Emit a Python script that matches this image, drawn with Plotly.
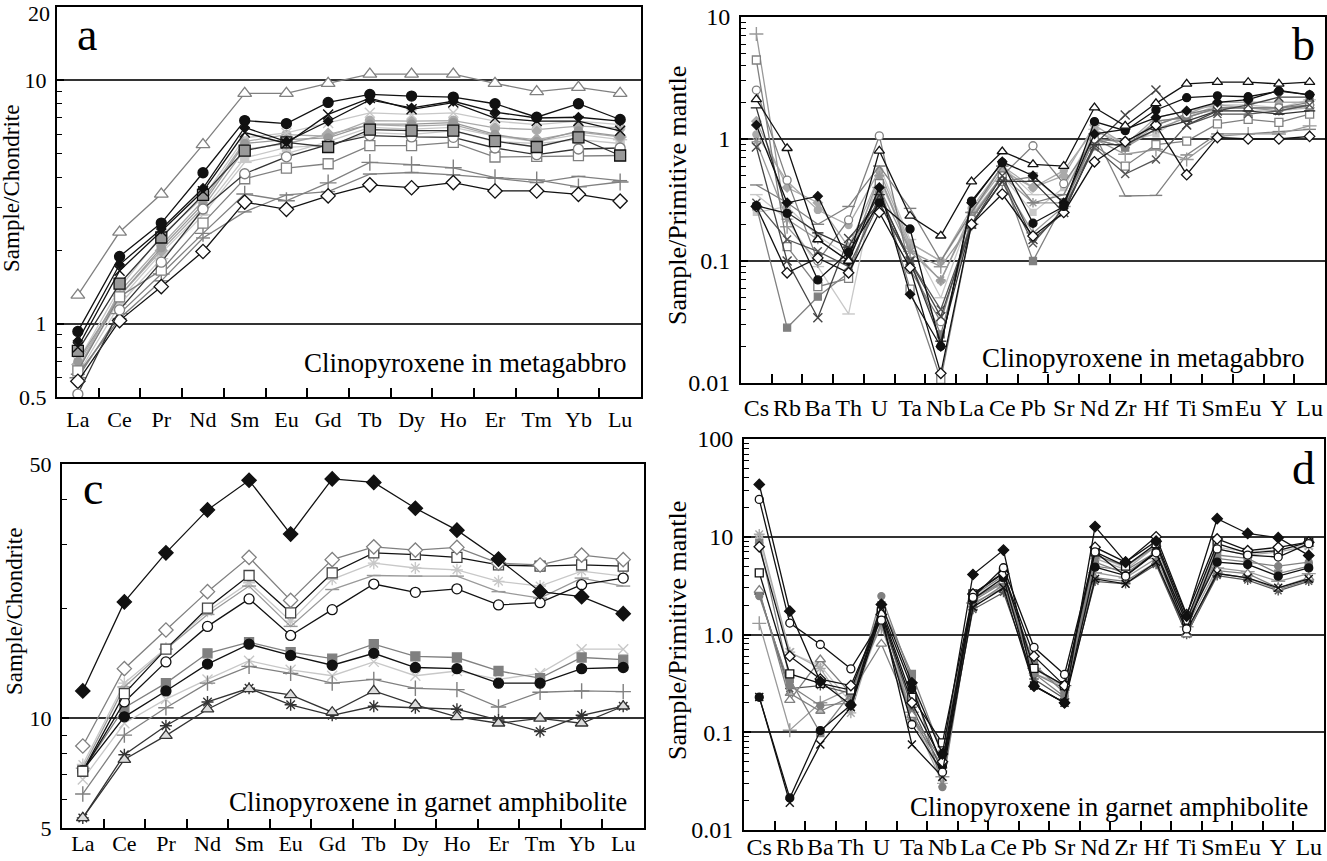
import math
import plotly.graph_objects as go

# --- categorias de los ejes ---
REE = ["La", "Ce", "Pr", "Nd", "Sm", "Eu", "Gd", "Tb", "Dy", "Ho", "Er", "Tm", "Yb", "Lu"]
SPIDER = ["Cs", "Rb", "Ba", "Th", "U", "Ta", "Nb", "La", "Ce", "Pb", "Sr", "Nd", "Zr", "Hf",
          "Ti", "Sm", "Eu", "Y", "Lu"]

# --- panel a: REE clinopiroxeno en metagabro (normalizado a condrita) ---
a_tri = [1.31, 2.38, 3.41, 5.44, 8.84, 8.84, 9.72, 10.6, 10.6, 10.6, 9.72, 8.99, 9.35, 8.84]
a_circ_negro = [0.93, 1.89, 2.59, 4.17, 6.83, 6.64, 8.11, 8.75, 8.61, 8.53, 8.01, 7.05, 8.01, 6.9]
a_diam_negro = [0.85, 1.75, 2.45, 3.6, 6.4, 5.6, 6.79, 8.3, 7.7, 8.2, 7.4, 7.0, 7.05, 6.8]
a_x_negro = [0.8, 1.65, 2.4, 3.5, 6.1, 5.5, 7.24, 8.45, 7.6, 8.1, 7.0, 6.8, 6.8, 6.2]
a_cuad_gris = [0.774, 1.46, 2.26, 3.38, 5.14, 5.56, 5.32, 6.27, 6.21, 6.21, 5.62, 5.32, 5.83, 4.91]
a_circ_abierto = [0.514, 1.14, 1.79, 2.96, 4.13, 4.85, 5.44, 5.93, 5.85, 5.83, 5.27, 4.95, 5.22, 5.27]
a_cuad_abierto = [0.64, 1.29, 1.66, 2.59, 3.94, 4.36, 4.54, 5.39, 5.39, 5.56, 4.84, 4.87, 4.9, 4.91]
a_cruz = [0.6, 1.1, 1.6, 2.35, 3.41, 3.2, 3.79, 4.6, 4.5, 4.37, 3.98, 3.9, 3.65, 3.82]
a_guion = [0.62, 1.05, 1.5, 2.25, 2.88, 3.38, 3.49, 4.12, 4.18, 4.09, 3.96, 3.8, 4.03, 3.87]
a_diam_abierto = [0.58, 1.03, 1.42, 1.98, 3.16, 2.95, 3.35, 3.72, 3.62, 3.8, 3.51, 3.51, 3.4, 3.19]
a_claro1 = [0.65, 1.35, 2.1, 3.2, 5.6, 5.98, 5.89, 6.83, 6.79, 6.83, 6.37, 6.27, 6.48, 6.37]
a_claro2 = [0.7, 1.4, 2.3, 3.3, 5.8, 6.08, 6.68, 7.35, 7.24, 7.35, 6.79, 6.58, 6.79, 6.58]
a_claro3 = [0.68, 1.3, 2.0, 3.0, 5.2, 5.5, 6.0, 6.58, 6.48, 6.58, 5.93, 5.7, 6.12, 5.85]
a_claro4 = [0.62, 1.2, 1.85, 2.8, 4.6, 5.0, 5.6, 6.4, 6.3, 6.4, 5.9, 5.6, 6.0, 5.7]
a_claro5 = [0.66, 1.25, 1.95, 2.9, 4.8, 5.3, 5.4, 6.1, 6.0, 6.2, 5.6, 5.5, 5.7, 5.5]
a_claro6 = [0.7, 1.3, 2.05, 3.1, 5.5, 5.7, 5.8, 6.6, 6.6, 6.7, 6.0, 5.6, 6.2, 5.9]

# --- panel b: multielementos clinopiroxeno en metagabro (manto primitivo) ---
b_tri = [2.11, 0.84, 0.15, 0.1, 0.8, 0.234, 0.161, 0.447, 0.79, 0.62, 0.6, 1.81, 1.28, 1.96, 2.83, 2.92, 2.92, 2.83, 2.92]
b_circ_negro = [0.284, 0.246, 0.07, 0.118, 0.3, 0.183, 0.02, 0.31, 0.64, 0.204, 0.28, 1.39, 1.17, 1.73, 2.18, 2.26, 2.22, 2.47, 2.3]
b_circ_abierto = [2.52, 0.46, 0.1, 0.217, 1.06, 0.085, 0.0318, 0.22, 0.5, 0.88, 0.43, 1.0, 0.95, 1.3, 1.6, 1.8, 1.8, 1.8, 1.9]
b_cuad_abierto = [4.44, 0.131, 0.0616, 0.072, 0.43, 0.0589, 0.0107, 0.2, 0.45, 0.49, 0.3, 0.88, 0.6, 0.9, 0.96, 1.33, 1.45, 1.37, 1.6]
b_cruz = [7.26, 0.191, 0.1, 0.1, 0.4, 0.12, 0.0898, 0.2, 0.45, 0.17, 0.28, 1.0, 0.75, 0.82, 0.68, 1.05, 1.1, 1.1, 1.28]
b_diam_abierto = [0.28, 0.08, 0.106, 0.08, 0.25, 0.088, 0.012, 0.2, 0.354, 0.16, 0.25, 0.65, 0.95, 1.3, 0.51, 1.03, 1.0, 1.0, 1.05]
b_x1 = [0.86, 0.1, 0.0343, 0.153, 0.3, 0.1, 0.035, 0.2, 0.5, 0.15, 0.25, 0.9, 1.57, 2.52, 1.3, 1.7, 1.9, 2.2, 2.2]
b_x2 = [0.3, 0.15, 0.12, 0.09, 0.3, 0.1, 0.04, 0.2, 0.45, 0.14, 0.27, 0.85, 0.516, 0.68, 1.3, 1.6, 1.6, 1.7, 1.9]
b_guion = [0.42, 0.3, 0.2, 0.28, 0.6, 0.27, 0.1, 0.25, 0.6, 0.3, 0.35, 1.1, 0.341, 0.345, 0.74, 1.1, 1.1, 1.15, 1.2]
b_cuad_gris = [0.28, 0.0284, 0.051, 0.08, 0.35, 0.1, 0.025, 0.22, 0.5, 0.1, 0.3, 1.0, 0.85, 1.4, 1.5, 1.8, 1.8, 1.8, 2.0]
b_diam_negro = [1.3, 0.3, 0.34, 0.1, 0.4, 0.0533, 0.0199, 0.3, 0.65, 0.5, 0.3, 1.1, 1.2, 1.5, 1.7, 2.0, 2.1, 2.5, 2.3]
b_oscuro = [1.8, 0.25, 0.17, 0.13, 0.35, 0.1, 0.022, 0.2, 0.45, 0.45, 0.25, 0.9, 0.9, 1.2, 1.4, 1.7, 1.7, 1.6, 1.7]
b_claro1 = [0.35, 0.22, 0.09, 0.0368, 0.6, 0.15, 0.05, 0.25, 0.6, 0.35, 0.35, 1.2, 0.9, 1.4, 1.5, 1.9, 1.9, 1.8, 2.1]
b_claro2 = [1.09, 0.45, 0.262, 0.197, 0.55, 0.14, 0.1, 0.27, 0.6, 0.4, 0.55, 1.2, 0.85, 1.3, 1.6, 2.0, 2.0, 2.0, 2.0]
b_claro3 = [1.4, 0.4, 0.3, 0.13, 0.5, 0.13, 0.0686, 0.25, 0.55, 0.4, 0.5, 1.3, 0.9, 1.5, 1.7, 1.9, 1.8, 1.8, 1.8]
b_x3 = [0.95, 0.22, 0.15, 0.1, 0.5, 0.12, 0.07, 0.23, 0.5, 0.3, 0.3, 1.0, 0.85, 1.2, 1.5, 1.8, 1.8, 1.7, 1.9]
b_claro4 = [0.25, 0.28, 0.16, 0.11, 0.45, 0.14, 0.1, 0.24, 0.5, 0.25, 0.4, 1.15, 0.95, 1.1, 1.6, 1.7, 1.7, 1.7, 1.8]

# --- panel c: REE clinopiroxeno en anfibolita granatifera ---
c_diam_negro = [11.9, 20.9, 28.5, 37.4, 45.1, 32.1, 45.5, 44.5, 37.8, 32.9, 27.4, 22.3, 21.6, 19.4]
c_diam_abierto = [8.4, 13.7, 17.5, 22.3, 27.7, 21.1, 27.3, 29.6, 29.0, 29.5, 26.7, 26.4, 28.1, 27.3]
c_cuad_abierto = [7.16, 11.7, 15.5, 20.1, 24.7, 19.5, 25.1, 28.5, 28.2, 27.7, 26.4, 26.2, 26.4, 26.2]
c_ast_claro = [7.47, 12.5, 15.6, 19.7, 23.6, 18.5, 24.1, 26.7, 25.9, 25.6, 23.8, 23.1, 25.4, 24.6]
c_guion = [7.3, 12.2, 15.5, 19.3, 23.1, 17.9, 22.6, 24.7, 24.6, 24.6, 22.3, 21.4, 24.3, 23.1]
c_circ_abierto = [7.16, 11.1, 14.3, 17.9, 21.3, 16.9, 19.9, 23.4, 22.2, 22.7, 20.5, 20.8, 23.3, 24.3]
c_cuad_gris = [7.2, 10.7, 12.5, 15.1, 16.2, 15.2, 14.6, 16.0, 14.8, 14.7, 13.5, 12.9, 14.7, 14.5]
c_circ_negro = [7.2, 10.1, 11.9, 14.1, 16.0, 14.9, 14.0, 15.1, 13.8, 13.7, 12.5, 12.5, 13.7, 13.8]
c_x_claro = [6.8, 9.7, 11.3, 12.8, 14.4, 13.6, 13.1, 14.3, 13.1, 13.5, 12.8, 13.3, 15.5, 15.5]
c_cruz = [6.2, 9.0, 10.7, 12.5, 13.9, 13.3, 12.5, 12.8, 12.1, 12.0, 10.75, 11.8, 11.9, 11.85]
c_tri = [5.33, 7.71, 8.97, 10.6, 12.05, 11.6, 10.4, 11.9, 10.9, 10.1, 9.7, 10.0, 9.7, 10.8]
c_ast = [5.33, 7.95, 9.55, 11.1, 12.1, 10.9, 10.2, 10.8, 10.7, 10.6, 9.9, 9.2, 10.2, 10.8]

# --- panel d: multielementos clinopiroxeno en anfibolita granatifera ---
d_diam_negro = [34.3, 1.73, 0.33, 0.19, 2.03, 0.32, 0.06, 4.11, 7.3, 0.296, 0.2, 12.7, 5.5, 9.0, 1.54, 15.3, 10.8, 9.77, 6.44]
d_circ_abierto = [24.1, 1.31, 0.79, 0.445, 1.4, 0.12, 0.039, 2.4, 4.82, 0.74, 0.39, 7.0, 3.95, 6.85, 1.14, 7.5, 6.5, 6.2, 8.5]
d_circ_negro = [0.228, 0.0213, 0.104, 0.19, 1.8, 0.28, 0.045, 2.3, 3.8, 0.3, 0.2, 4.89, 4.0, 7.0, 1.3, 5.5, 5.2, 3.95, 4.8]
d_x_negro = [0.23, 0.019, 0.075, 0.18, 1.6, 0.075, 0.035, 1.9, 3.0, 0.3, 0.2, 3.7, 3.3, 5.5, 1.1, 4.2, 3.8, 3.0, 3.7]
d_ast_claro = [10.6, 0.66, 0.45, 0.158, 1.6, 0.15, 0.03, 2.3, 3.6, 0.4, 0.3, 6.0, 4.6, 8.0, 1.3, 7.5, 6.5, 7.0, 8.0]
d_diam_abierto = [7.9, 0.6, 0.35, 0.3, 1.6, 0.2, 0.05, 2.6, 4.2, 0.6, 0.3, 7.8, 5.5, 10.0, 1.6, 9.5, 7.2, 7.8, 8.8]
d_cuad_abierto = [4.28, 0.395, 0.316, 0.27, 1.7, 0.228, 0.078, 2.6, 4.3, 0.45, 0.3, 7.0, 5.0, 8.5, 1.4, 8.5, 6.8, 7.2, 8.8]
d_tri = [2.84, 0.213, 0.555, 0.25, 0.8, 0.15, 0.05, 2.3, 3.5, 0.45, 0.3, 5.0, 4.5, 7.0, 1.0, 4.5, 4.2, 3.0, 3.8]
d_circ_gris = [2.47, 0.3, 0.187, 0.2, 2.47, 0.35, 0.0275, 2.2, 3.4, 0.4, 0.23, 5.5, 4.2, 7.0, 1.3, 6.0, 5.5, 5.0, 5.5]
d_cruz = [1.3, 0.105, 0.2, 0.28, 1.2, 0.16, 0.035, 2.1, 3.0, 0.45, 0.3, 4.3, 3.8, 6.0, 1.2, 4.8, 4.4, 3.5, 4.2]
d_cuad_gris = [8.7, 0.35, 0.098, 0.25, 2.0, 0.395, 0.06, 2.5, 4.0, 0.5, 0.25, 6.5, 5.0, 8.0, 1.4, 6.5, 6.0, 4.2, 5.0]
d_tri2 = [2.7, 0.25, 0.164, 0.23, 1.3, 0.14, 0.045, 2.0, 3.2, 0.4, 0.28, 3.8, 3.5, 5.5, 1.0, 4.2, 3.8, 2.9, 3.6]
d_ast = [2.6, 0.28, 0.3, 0.25, 1.5, 0.18, 0.04, 1.8, 2.7, 0.35, 0.22, 3.5, 3.3, 5.2, 1.0, 4.0, 3.6, 2.8, 3.5]
d_x_claro = [9.5, 0.65, 0.48, 0.2, 1.3, 0.14, 0.035, 2.4, 3.8, 0.45, 0.28, 6.5, 4.8, 8.5, 1.4, 7.8, 7.0, 7.3, 8.3]

# --- etiquetas de los ejes y ---
A_TICKS = [0.5, 1, 10, 20]
A_TEXTOS = ["0.5", "1", "10", ""]   # el "20" va como anotacion para que no se corte
A_TOPE = "20"
B_TICKS = [0.01, 0.1, 1, 10]
B_TEXTOS = ["0.01", "0.1", "1", "10"]
C_TICKS = [5, 10, 50]
C_TEXTOS = ["5", "10", "50"]
D_TICKS = [0.01, 0.1, 1, 10, 100]
D_TEXTOS = ["0.01", "0.1", "1.0", "10", "100"]

FUENTE = "Liberation Serif, Times New Roman, serif"
NEGRO, OSCURO, GRIS, CLARO, MUYCLARO = "#111111", "#444444", "#808080", "#aaaaaa", "#c8c8c8"


def estilo(simbolo, linea, relleno, borde, tam=10):
    # simbolos "-open" usan el color del marcador como trazo
    if simbolo.endswith("-open"):
        marcador = dict(symbol=simbolo, size=tam, color=borde, line=dict(width=1.4))
    else:
        marcador = dict(symbol=simbolo, size=tam, color=relleno, line=dict(color=borde, width=1.3))
    return dict(line=dict(color=linea, width=1.3), marker=marcador)


SERIES_A = [
    (a_claro4, estilo("line-ew-open", MUYCLARO, None, MUYCLARO)),
    (a_claro5, estilo("square", MUYCLARO, MUYCLARO, MUYCLARO, 8)),
    (a_claro3, estilo("diamond", CLARO, CLARO, CLARO, 9)),
    (a_claro1, estilo("circle", CLARO, CLARO, CLARO, 9)),
    (a_claro2, estilo("x-thin-open", MUYCLARO, None, MUYCLARO)),
    (a_claro6, estilo("circle", "#999999", "#999999", "#999999", 8)),
    (a_guion, estilo("line-ew-open", GRIS, None, GRIS)),
    (a_cruz, estilo("cross-thin-open", GRIS, None, GRIS, 12)),
    (a_cuad_abierto, estilo("square", GRIS, "white", GRIS)),
    (a_diam_abierto, estilo("diamond", NEGRO, "white", NEGRO, 11)),
    (a_circ_abierto, estilo("circle", "#333333", "white", GRIS)),
    (a_cuad_gris, estilo("square", "#333333", "#999999", NEGRO, 11)),
    (a_x_negro, estilo("x-thin-open", NEGRO, None, NEGRO)),
    (a_diam_negro, estilo("diamond", NEGRO, NEGRO, NEGRO, 7)),
    (a_circ_negro, estilo("circle", NEGRO, NEGRO, NEGRO)),
    (a_tri, estilo("triangle-up", GRIS, "white", GRIS, 12)),
]

SERIES_B = [
    (b_claro4, estilo("square", MUYCLARO, MUYCLARO, MUYCLARO, 6)),
    (b_claro1, estilo("line-ew-open", MUYCLARO, None, MUYCLARO, 9)),
    (b_claro2, estilo("circle", CLARO, CLARO, CLARO, 7)),
    (b_claro3, estilo("diamond", CLARO, CLARO, CLARO, 7)),
    (b_x3, estilo("asterisk-open", "#999999", None, "#999999", 8)),
    (b_guion, estilo("line-ew-open", GRIS, None, GRIS, 9)),
    (b_cruz, estilo("cross-thin-open", "#999999", None, "#999999", 10)),
    (b_cuad_gris, estilo("square", GRIS, GRIS, GRIS, 7)),
    (b_cuad_abierto, estilo("square", GRIS, "white", GRIS, 8)),
    (b_circ_abierto, estilo("circle", GRIS, "white", GRIS, 8)),
    (b_x2, estilo("x-thin-open", "#555555", None, "#555555", 8)),
    (b_oscuro, estilo("line-ew-open", "#333333", None, "#333333", 8)),
    (b_x1, estilo("x-thin-open", OSCURO, None, OSCURO, 9)),
    (b_diam_abierto, estilo("diamond", NEGRO, "white", NEGRO, 8)),
    (b_diam_negro, estilo("diamond", NEGRO, NEGRO, NEGRO, 7)),
    (b_circ_negro, estilo("circle", NEGRO, NEGRO, NEGRO, 8)),
    (b_tri, estilo("triangle-up", NEGRO, "white", NEGRO, 9)),
]

SERIES_C = [
    (c_x_claro, estilo("x-thin-open", MUYCLARO, None, MUYCLARO, 10)),
    (c_ast_claro, estilo("asterisk-open", MUYCLARO, None, MUYCLARO, 10)),
    (c_guion, estilo("line-ew-open", "#999999", None, "#999999", 10)),
    (c_cruz, estilo("cross-thin-open", GRIS, None, GRIS, 11)),
    (c_cuad_gris, estilo("square", GRIS, GRIS, GRIS, 9)),
    (c_circ_negro, estilo("circle", NEGRO, NEGRO, NEGRO, 10)),
    (c_circ_abierto, estilo("circle", NEGRO, "white", NEGRO, 10)),
    (c_cuad_abierto, estilo("square", NEGRO, "white", OSCURO, 10)),
    (c_diam_abierto, estilo("diamond", GRIS, "white", GRIS, 11)),
    (c_ast, estilo("asterisk-open", "#333333", None, "#333333", 10)),
    (c_tri, estilo("triangle-up", "#333333", "#dddddd", "#333333", 11)),
    (c_diam_negro, estilo("diamond", NEGRO, NEGRO, NEGRO, 11)),
]

SERIES_D = [
    (d_x_claro, estilo("x-thin-open", MUYCLARO, None, MUYCLARO, 9)),
    (d_ast_claro, estilo("asterisk-open", CLARO, None, CLARO, 9)),
    (d_cruz, estilo("cross-thin-open", "#999999", None, "#999999", 10)),
    (d_tri2, estilo("triangle-up", GRIS, "#bbbbbb", GRIS, 8)),
    (d_ast, estilo("asterisk-open", "#555555", None, "#555555", 8)),
    (d_circ_gris, estilo("circle", GRIS, GRIS, GRIS, 7)),
    (d_cuad_gris, estilo("square", GRIS, GRIS, GRIS, 7)),
    (d_tri, estilo("triangle-up", GRIS, "white", GRIS, 9)),
    (d_x_negro, estilo("x-thin-open", NEGRO, None, NEGRO, 8)),
    (d_circ_negro, estilo("circle", NEGRO, NEGRO, NEGRO, 8)),
    (d_cuad_abierto, estilo("square", NEGRO, "white", NEGRO, 8)),
    (d_diam_abierto, estilo("diamond", NEGRO, "white", NEGRO, 8)),
    (d_circ_abierto, estilo("circle", NEGRO, "white", NEGRO, 8)),
    (d_diam_negro, estilo("diamond", NEGRO, NEGRO, NEGRO, 8)),
]


def eje_x(dominio, ancla, cats, tam, separacion=2):
    return dict(domain=dominio, anchor=ancla, type="category", categoryorder="array",
                categoryarray=cats, range=[-0.5, len(cats) - 0.5], showline=True, mirror=True,
                linecolor="black", linewidth=2, ticks="inside", tickson="boundaries",
                ticklen=9, tickwidth=1.5, tickcolor="black", showgrid=False, zeroline=False,
                tickangle=0, automargin=False, ticklabelstandoff=separacion,
                ticklabeloverflow="allow",
                tickfont=dict(family=FUENTE, size=tam, color="black"))


def eje_y(dominio, ancla, lim, valores, textos, tam):
    dec_min, dec_max = math.floor(math.log10(lim[0])), math.ceil(math.log10(lim[1]))
    menores = [m * 10 ** e for e in range(dec_min, dec_max) for m in range(2, 10)
               if lim[0] < m * 10 ** e < lim[1]]
    return dict(domain=dominio, anchor=ancla, type="log",
                range=[math.log10(lim[0]), math.log10(lim[1])],
                tickmode="array", tickvals=valores, ticktext=textos, ticks="inside",
                ticklen=7, tickwidth=1.5, tickcolor="black",
                showline=True, mirror=True, linecolor="black", linewidth=2,
                showgrid=True, gridcolor="#333333", gridwidth=1.5, zeroline=False,
                minor=dict(tickvals=menores, ticks="inside", ticklen=5, tickwidth=1.3,
                           tickcolor="black", showgrid=False),
                ticklabelstandoff=4, automargin=False, ticklabeloverflow="allow",
                tickfont=dict(family=FUENTE, size=tam, color="black"))


fig = go.Figure()
paneles = [
    (SERIES_A, REE, "x", "y"),
    (SERIES_B, SPIDER, "x2", "y2"),
    (SERIES_C, REE, "x3", "y3"),
    (SERIES_D, SPIDER, "x4", "y4"),
]
for series, cats, ex, ey in paneles:
    for valores, est in series:
        fig.add_trace(go.Scatter(x=cats, y=valores, xaxis=ex, yaxis=ey, mode="lines+markers",
                                 line=est["line"], marker=est["marker"], showlegend=False,
                                 hoverinfo="x+y"))

W, H = 1327, 861


def px_x(v):
    return v / W


def px_y(v):
    return 1 - v / H


fig.update_layout(
    width=W, height=H, margin=dict(l=0, r=0, t=0, b=0, autoexpand=False),
    paper_bgcolor="white", plot_bgcolor="white", showlegend=False,
    font=dict(family=FUENTE, color="black"),
    xaxis=eje_x([px_x(57), px_x(641)], "y", REE, 22),
    yaxis=eje_y([px_y(397), px_y(7)], "x", (0.5, 20), A_TICKS, A_TEXTOS, 22),
    xaxis2=eje_x([px_x(741), px_x(1325)], "y2", SPIDER, 24),
    yaxis2=eje_y([px_y(383), px_y(17)], "x2", (0.01, 10), B_TICKS, B_TEXTOS, 24),
    xaxis3=eje_x([px_x(62), px_x(644)], "y3", REE, 22, -5),
    yaxis3=eje_y([px_y(828), px_y(464)], "x3", (5, 50), C_TICKS, C_TEXTOS, 22),
    xaxis4=eje_x([px_x(744), px_x(1324)], "y4", SPIDER, 24, -6),
    yaxis4=eje_y([px_y(830), px_y(439)], "x4", (0.01, 100), D_TICKS, D_TEXTOS, 24),
)

notas = [
    # titulos de eje y
    dict(x=px_x(12), y=px_y(189), text="Sample/Chondrite", textangle=-90, size=23),
    dict(x=px_x(677), y=px_y(196), text="Sample/Primitive mantle", textangle=-90, size=26),
    dict(x=px_x(14), y=px_y(612), text="Sample/Chondrite", textangle=-90, size=23),
    dict(x=px_x(677), y=px_y(631), text="Sample/Primitive mantle", textangle=-90, size=26),
    # letras de panel
    dict(x=px_x(87), y=px_y(34), text="a", size=46),
    dict(x=px_x(1303), y=px_y(44), text="b", size=46),
    dict(x=px_x(93), y=px_y(488), text="c", size=46),
    dict(x=px_x(1303), y=px_y(469), text="d", size=46),
]
for n in notas:
    fig.add_annotation(x=n["x"], y=n["y"], xref="paper", yref="paper", text=n["text"],
                       textangle=n.get("textangle", 0), showarrow=False,
                       xanchor="center", yanchor="middle",
                       font=dict(family=FUENTE, size=n["size"], color="black"))

# etiqueta superior del eje y del panel a, dentro del borde de la figura
fig.add_annotation(x=px_x(51), y=1, xref="paper", yref="paper", text=A_TOPE,
                   showarrow=False, xanchor="right", yanchor="top", borderpad=0,
                   font=dict(family=FUENTE, size=22, color="black"))

leyendas = [
    (628, 363, "Clinopyroxene in metagabbro"),
    (1306, 358, "Clinopyroxene in metagabbro"),
    (629, 802, "Clinopyroxene in garnet amphibolite"),
    (1310, 807, "Clinopyroxene in garnet amphibolite"),
]
for lx, ly, texto in leyendas:
    fig.add_annotation(x=px_x(lx), y=px_y(ly), xref="paper", yref="paper", text=texto,
                       showarrow=False, xanchor="right", yanchor="middle",
                       font=dict(family=FUENTE, size=27, color="black"))

# sin margen en el body para que la figura ocupe justo la ventana
fig.write_html("out.html", config={"displayModeBar": False},
               post_script="document.body.style.margin='0';document.body.style.overflow='hidden';")
